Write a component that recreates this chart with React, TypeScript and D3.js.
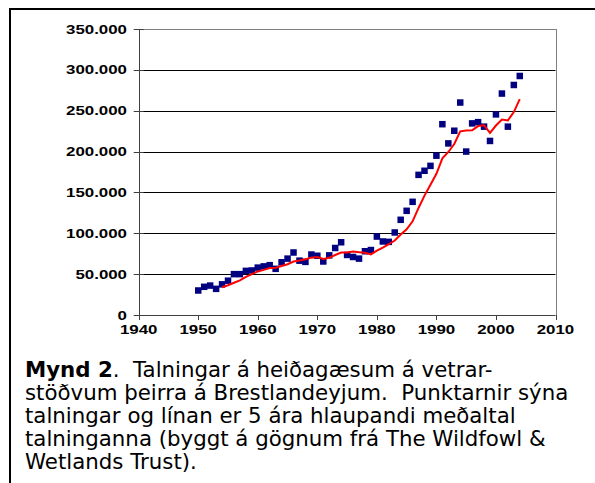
import * as d3 from "d3";

// Talningar (fjöldi) eftir árum
const years = [
  1950, 1951, 1952, 1953, 1954, 1955, 1956, 1957, 1958, 1959,
  1960, 1961, 1962, 1963, 1964, 1965, 1966, 1967, 1968, 1969,
  1970, 1971, 1972, 1973, 1974, 1975, 1976, 1977, 1978, 1979,
  1980, 1981, 1982, 1983, 1984, 1985, 1986, 1987, 1988, 1989,
  1990, 1991, 1992, 1993, 1994, 1995, 1996, 1997, 1998, 1999,
  2000, 2001, 2002, 2003, 2004,
];
const counts = [
  30000, 34500, 36000, 32000, 37500, 42000, 50000, 50000, 54000, 54500,
  58000, 59500, 61000, 56500, 64500, 69000, 76500, 66500, 65000, 74000,
  72500, 65500, 73000, 82000, 89000, 73500, 71000, 69000, 78000, 79500,
  96000, 90000, 89500, 101000, 116500, 127500, 138500, 171500, 176500, 182500,
  195000, 233500, 210000, 225500, 260000, 200000, 234500, 236000, 230500, 213000,
  245500, 271000, 230500, 281500, 292500,
];

// 5 ára hlaupandi meðaltal (1954-2004)
const avgYears = years.slice(4);
const avgValues = [
  34000, 36400, 39500, 42300, 46700, 50100,
  53300, 55200, 57400, 57900, 59900, 62100, 65500, 66600, 68300, 70200,
  70900, 68700, 70000, 73400, 76400, 76600, 77700, 76900, 76100, 74200,
  78700, 82500, 86600, 91200, 98600, 104900, 114600, 131000, 146100, 159300,
  172800, 191800, 199500, 209300, 224800, 225800, 226000, 231200, 232200, 222800,
  231900, 239200, 238100, 248300, 264200,
];

const yTicks = [0, 50000, 100000, 150000, 200000, 250000, 300000, 350000];
const xTicks = [1940, 1950, 1960, 1970, 1980, 1990, 2000, 2010];

const captionLines = [
  "stöðvum þeirra á Brestlandeyjum.  Punktarnir sýna",
  "talningar og línan er 5 ára hlaupandi meðaltal",
  "talninganna (byggt á gögnum frá The Wildfowl &",
  "Wetlands Trust).",
];

const W = 595;
const H = 483;
const plot = { left: 138.7, right: 555.5, top: 29, bottom: 315 };

const fmt = (v: number) => d3.format(",")(v).replace(/,/g, ".");

export default function App() {
  const x = d3.scaleLinear().domain([1940, 2010]).range([plot.left, plot.right]);
  const y = d3.scaleLinear().domain([0, 350000]).range([plot.bottom, plot.top]);

  const line = d3
    .line<number>()
    .x((_, i) => x(avgYears[i]))
    .y((d) => y(d));

  const axisFont = "'Liberation Sans', Arial, sans-serif";
  const capFont = "'DejaVu Sans', Verdana, sans-serif";
  const sx = 1.35; // labels look horizontally stretched in the original
  const pre = { whiteSpace: "pre" as const };

  return (
    <svg
      width={W}
      height={H}
      style={{ position: "absolute", left: 0, top: 0, background: "#fff" }}
    >
      <rect x={10} y={9} width={620} height={520} fill="#fff" stroke="#000" strokeWidth={2} />

      {/* gridlines */}
      {yTicks.slice(1).map((t) => (
        <line key={t} x1={plot.left} x2={plot.right} y1={Math.round(y(t)) + 0.5} y2={Math.round(y(t)) + 0.5} stroke="#000" strokeWidth={1} />
      ))}
      {/* plot border */}
      <line x1={plot.left} x2={plot.right} y1={plot.top + 0.5} y2={plot.top + 0.5} stroke="#808080" />
      <line x1={Math.round(plot.right) + 0.5} x2={Math.round(plot.right) + 0.5} y1={plot.top} y2={plot.bottom} stroke="#808080" />

      {/* y axis */}
      <line x1={Math.round(plot.left) + 0.5} x2={Math.round(plot.left) + 0.5} y1={plot.top} y2={plot.bottom} stroke="#404040" />
      {yTicks.map((t) => (
        <g key={t}>
          <line x1={plot.left - 5} x2={plot.left + 5} y1={Math.round(y(t)) + 0.5} y2={Math.round(y(t)) + 0.5} stroke="#404040" />
          <text
            transform={`translate(127,${y(t)}) scale(${sx},1)`}
            dy="0.36em"
            textAnchor="end"
            fontFamily={axisFont}
            fontWeight="bold"
            fontSize={12.5}
          >
            {fmt(t)}
          </text>
        </g>
      ))}

      {/* x axis */}
      <line x1={plot.left} x2={plot.right} y1={plot.bottom + 0.5} y2={plot.bottom + 0.5} stroke="#404040" />
      {xTicks.map((t) => (
        <g key={t}>
          <line x1={Math.round(x(t)) + 0.5} x2={Math.round(x(t)) + 0.5} y1={plot.bottom} y2={plot.bottom + 5} stroke="#404040" />
          <text
            transform={`translate(${x(t)},${plot.bottom + 19}) scale(${sx},1)`}
            textAnchor="middle"
            fontFamily={axisFont}
            fontWeight="bold"
            fontSize={12.5}
          >
            {t}
          </text>
        </g>
      ))}

      {/* data points */}
      {counts.map((c, i) => (
        <rect key={years[i]} x={x(years[i]) - 3.25} y={y(c) - 3.25} width={6.5} height={6.5} fill="#000080" />
      ))}

      {/* moving average */}
      <path d={line(avgValues) ?? ""} fill="none" stroke="#ff0000" strokeWidth={2} />

      {/* caption */}
      <g transform="translate(25,0) scale(1.04,1)" fontFamily={capFont} fontSize={20.5}>
        <text x={0} y={377} xmlSpace="preserve" style={pre}>
          <tspan fontWeight="bold">Mynd 2</tspan>
          {".  Talningar á heiðagæsum á vetrar-"}
        </text>
        {captionLines.map((l, i) => (
          <text key={i} x={0} y={400 + i * 23} xmlSpace="preserve" style={pre}>
            {l}
          </text>
        ))}
      </g>
    </svg>
  );
}
